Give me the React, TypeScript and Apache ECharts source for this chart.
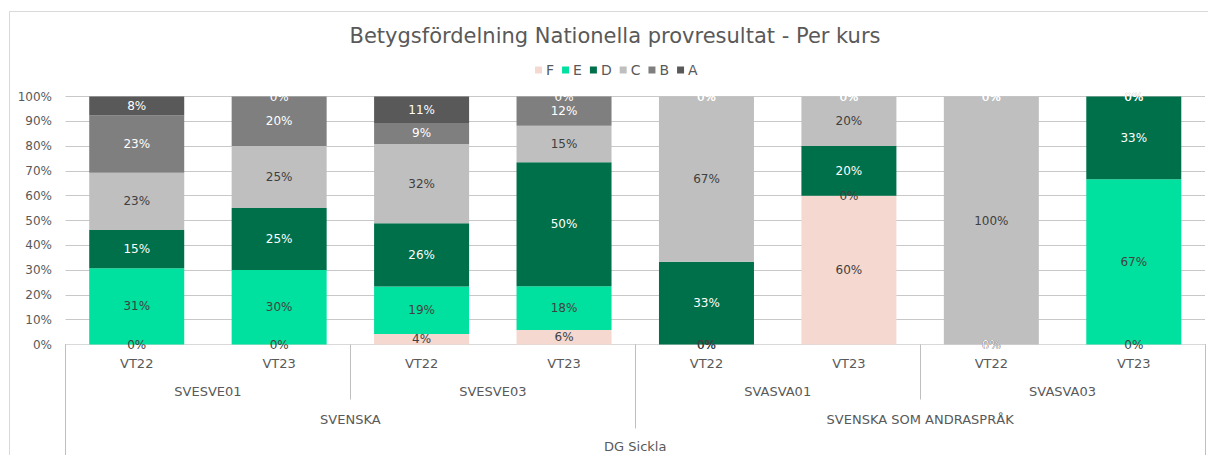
import React, { useEffect, useRef } from "react";
import * as echarts from "echarts";

const terms = ["VT22", "VT23", "VT22", "VT23", "VT22", "VT23", "VT22", "VT23"];
const courses = ["SVESVE01", "SVESVE03", "SVASVA01", "SVASVA03"];
const subjects = ["SVENSKA", "SVENSKA SOM ANDRASPRÅK"];
const schools = ["DG Sickla"];

const gradeF = [0, 0, 4.26, 5.88, 0, 60, 0, 0];
const gradeE = [30.77, 30, 19.15, 17.65, 0, 0, 0, 66.67];
const gradeD = [15.38, 25, 25.53, 50, 33.33, 20, 0, 33.33];
const gradeC = [23.08, 25, 31.91, 14.71, 66.67, 20, 100, 0];
const gradeB = [23.08, 20, 8.51, 11.76, 0, 0, 0, 0];
const gradeA = [7.69, 0, 10.64, 0, 0, 0, 0, 0];

const yTicks = [0, 10, 20, 30, 40, 50, 60, 70, 80, 90, 100];

const FONT = "DejaVu Sans";
const TXT = "#595959";

export default function App() {
  const ref = useRef<HTMLDivElement>(null);
  useEffect(() => {
    if (!ref.current) return;
    const chart = echarts.init(ref.current, null, { renderer: "svg" });
    const seriesDef = [
      { name: "F", data: gradeF, color: "#F5D8D0", label: "#404040" },
      { name: "E", data: gradeE, color: "#00E09E", label: "#404040" },
      { name: "D", data: gradeD, color: "#00704A", label: "#FFFFFF" },
      { name: "C", data: gradeC, color: "#BFBFBF", label: "#404040" },
      { name: "B", data: gradeB, color: "#7F7F7F", label: "#FFFFFF" },
      { name: "A", data: gradeA, color: "#595959", label: "#FFFFFF" },
    ];
    const catAxis = (data: string[], tickLen: number, margin: number, show: boolean) => ({
      type: "category",
      data,
      position: "bottom",
      gridIndex: 0,
      axisLine: { show: false },
      axisTick: {
        show,
        interval: 0,
        length: tickLen,
        lineStyle: { color: "#BFBFBF", width: 1 },
      },
      axisLabel: {
        interval: 0,
        margin,
        verticalAlign: "middle",
        color: TXT,
        fontFamily: FONT,
        fontSize: 13,
      },
      splitLine: { show: false },
    });
    chart.setOption({
      animation: false,
      backgroundColor: "#FFFFFF",
      textStyle: { fontFamily: FONT },
      graphic: [
        {
          type: "rect",
          z: -10,
          shape: { x: 9.5, y: 11.5, width: 1400, height: 600 },
          style: { fill: "none", stroke: "#D9D9D9", lineWidth: 1 },
          silent: true,
        },
        {
          type: "text",
          x: 615,
          y: 36,
          style: {
            text: "Betygsfördelning Nationella provresultat - Per kurs",
            fill: TXT,
            font: `21px "${FONT}"`,
            textAlign: "center",
            textVerticalAlign: "middle",
          },
        },
      ],
      legend: {
        left: 530,
        top: 58,
        itemWidth: 7,
        itemHeight: 7,
        itemGap: 8,
        icon: "rect",
        textStyle: { color: TXT, fontFamily: FONT, fontSize: 14, padding: [0, 0, 0, -1] },
        data: seriesDef.map((s) => s.name),
      },
      grid: { left: 65.5, right: 3, top: 96.5, bottom: 110.5, containLabel: false },
      xAxis: [
        {
          type: "category",
          data: terms,
          position: "bottom",
          axisLine: { show: true, lineStyle: { color: "#D9D9D9", width: 1 } },
          axisTick: { show: false },
          axisLabel: {
            interval: 0,
            margin: 19,
            verticalAlign: "middle",
            color: TXT,
            fontFamily: FONT,
            fontSize: 13,
          },
        },
        catAxis(courses, 55, 47, true),
        catAxis(subjects, 84, 74.5, true),
        catAxis(schools, 130, 102, true),
      ],
      yAxis: {
        type: "value",
        min: yTicks[0],
        max: yTicks[yTicks.length - 1],
        interval: 10,
        axisLine: { show: false },
        axisTick: { show: false },
        axisLabel: {
          formatter: "{value}%",
          color: TXT,
          fontFamily: FONT,
          fontSize: 12,
          margin: 13.5,
        },
        splitLine: { lineStyle: { color: "#C8C8C8", width: 1 } },
      },
      series: seriesDef.map((s) => ({
        name: s.name,
        type: "bar",
        stack: "total",
        xAxisIndex: 0,
        barCategoryGap: "33.3%",
        data: s.data,
        itemStyle: { color: s.color },
        label: {
          show: true,
          position: "inside",
          color: s.label,
          fontFamily: FONT,
          fontSize: 12,
          formatter: (p: any) => Math.round(p.value) + "%",
        },
      })),
    });
    return () => chart.dispose();
  }, []);
  return (
    <div
      ref={ref}
      style={{ position: "absolute", left: 0, top: 0, width: 1208, height: 455 }}
    />
  );
}
